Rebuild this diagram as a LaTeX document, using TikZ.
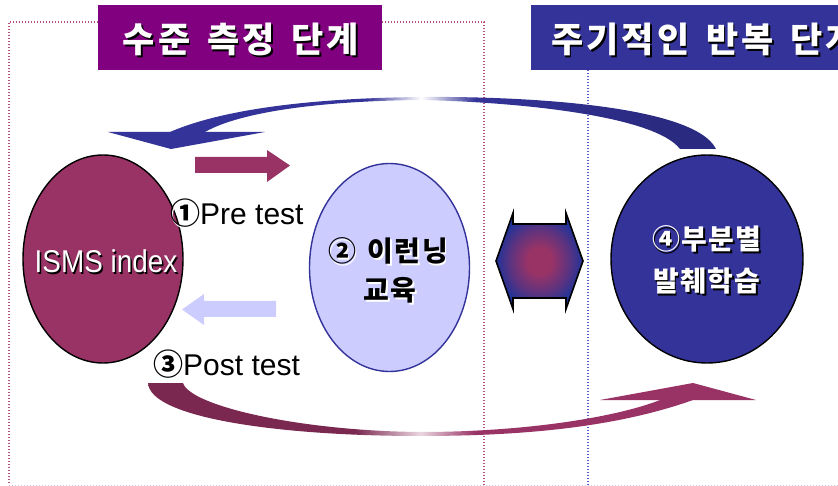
\documentclass[tikz,border=0pt]{standalone}
\usepackage{fontspec}
\setmainfont{Liberation Sans}
\newfontfamily\kr{Noto Sans CJK KR}[WordSpace=1.6]
\newfontfamily\krt{Noto Sans CJK KR}[WordSpace=1.5, LetterSpace=9]
\newfontfamily\krb{Noto Sans CJK KR}[WordSpace=1.5, LetterSpace=5]
\usetikzlibrary{shapes.geometric}

\definecolor{tpurple}{HTML}{800080}
\definecolor{navyc}{HTML}{333399}
\definecolor{navydk}{HTML}{2A2A80}
\definecolor{maroonc}{HTML}{993366}
\definecolor{maroondk}{HTML}{7A2850}
\definecolor{lav}{HTML}{CCCCFF}
\definecolor{pinkdot}{HTML}{B8507E}
\definecolor{bluedot}{HTML}{5A5ACC}
\definecolor{graydot}{HTML}{C8C8DC}
\definecolor{hexblue}{HTML}{1F3399}
\colorlet{hexmid}{hexblue!50!maroonc}

\pgfdeclarehorizontalshading{topfade}{100bp}{color(0bp)=(navyc); color(25bp)=(navyc); color(43bp)=(navyc); color(48bp)=(white); color(53bp)=(navyc); color(70bp)=(navydk); color(100bp)=(navydk)}
\pgfdeclarehorizontalshading{botfade}{100bp}{color(0bp)=(maroondk); color(25bp)=(maroondk); color(44bp)=(maroondk); color(50bp)=(maroonc!20); color(55bp)=(maroonc); color(100bp)=(maroonc)}
\pgfdeclareradialshading{hexshade}{\pgfpoint{0bp}{0bp}}{color(0bp)=(maroonc); color(7bp)=(maroonc); color(17bp)=(hexmid); color(25bp)=(hexblue); color(50bp)=(hexblue)}

\newcommand\shtext[3]{\makebox[0pt][l]{\hspace{1.6pt}\raisebox{-1.6pt}{\color{#2}#3}}{\color{#1}#3}}

\tikzset{
  pdot/.style={pinkdot, line width=1.3pt, dash pattern=on 1.3pt off 1.7pt},
  bdot/.style={bluedot, line width=1.3pt, dash pattern=on 1.3pt off 1.7pt},
  gdot/.style={graydot, line width=1pt, dash pattern=on 1pt off 2pt},
  titlebox/.style={draw=none, inner sep=0pt, anchor=north west, minimum height=65pt},
  txt/.style={inner sep=0pt, anchor=base},
  ktitle/.style={txt, font=\krt\bfseries\fontsize{35}{40}\selectfont},
  kbody/.style={txt, font=\krb\bfseries\fontsize{28}{32}\selectfont},
  ltxt/.style={txt, font=\fontsize{30}{34}\selectfont},
  blob/.style={ellipse, inner sep=0pt, line width=1.4pt},
}

\begin{document}
\begin{tikzpicture}[x=1pt,y=-1pt]
\useasboundingbox (0,0) rectangle (838,486);
\clip (0,0) rectangle (838,486);

% dotted frames
\draw[pdot] (484,485) -- (484,22) -- (9,22) -- (9,485);
\draw[gdot] (9,485) -- (838,485);
\draw[bdot] (588,70) -- (588,485);

% title boxes
\node[titlebox, fill=tpurple, minimum width=284pt] (t1box) at (98,5) {};
\node[titlebox, fill=navyc, minimum width=307pt] (t2box) at (531,5) {};
\node[ktitle] (t1) at (241,52.5) {\shtext{white}{black}{수준 측정 단계}};
\node[ktitle, anchor=base west] (t2) at (551,53) {\shtext{white}{black}{주기적인 반복 단계}};

% top curved arrow
\path[shading=topfade]
  (170,132) .. controls (230,106) and (330,98) .. (420,97)
  .. controls (530,96) and (695,106) .. (716,149)
  -- (680,149)
  .. controls (655,116) and (520,102) .. (420,100)
  .. controls (320,101) and (240,112) .. (205,132) -- cycle;
\fill[navyc] (108,132) -- (265,132) -- (171,149) -- cycle;

% bottom curved arrow
\path[shading=botfade]
  (148,383) -- (183,383)
  .. controls (190,406) and (300,431) .. (420,432)
  .. controls (530,432) and (620,416) .. (660,400)
  -- (693,400)
  .. controls (620,426) and (530,436) .. (420,436)
  .. controls (280,436) and (150,418) .. (148,383) -- cycle;
\fill[maroonc] (600,400) -- (693,383) -- (756,400) -- cycle;

% block arrows
\fill[maroonc] (195,157) -- (267,157) -- (267,150) -- (290,165.5) -- (267,182) -- (267,173) -- (195,173) -- cycle;
\fill[lav] (276,301) -- (204,301) -- (204,294) -- (182,309.5) -- (204,325) -- (204,317) -- (276,317) -- cycle;

% double hexagon arrow
\draw[line width=1.6pt, shading=hexshade]
  (496,261) -- (513,213) -- (513,224) -- (566,224) -- (566,213) -- (583,261)
  -- (566,309) -- (566,298) -- (513,298) -- (513,309) -- cycle;

% main shapes
\node[blob, fill=maroonc, draw=black, minimum width=160pt, minimum height=208pt] (isms) at (103,259) {};
\node[blob, fill=lav, draw=navyc, minimum width=160pt, minimum height=208pt] (elearn) at (389.5,267.5) {};
\node[blob, fill=navyc, draw=black, minimum width=192pt, minimum height=208pt] (part) at (707,259) {};

% texts
\node[ltxt] (ismst) at (106,273) {\scalebox{0.93}[1.05]{\shtext{white}{black}{ISMS index}}};
\node[ltxt, anchor=base west] (pre) at (170,225) {\shtext{black}{white}{{\kr\bfseries ①}Pre test}};
\node[ltxt, anchor=base west] (post) at (153,375) {\shtext{black}{white}{{\kr\bfseries ③}Post test}};

\node[kbody] (el1) at (388,261.5) {\shtext{black}{white}{② 이런닝}};
\node[kbody] (el2) at (390,301) {\shtext{black}{white}{교육}};
\node[kbody] (pa1) at (707,250) {\shtext{white}{black}{④부분별}};
\node[kbody] (pa2) at (707,291.5) {\shtext{white}{black}{발췌학습}};
\end{tikzpicture}
\end{document}
